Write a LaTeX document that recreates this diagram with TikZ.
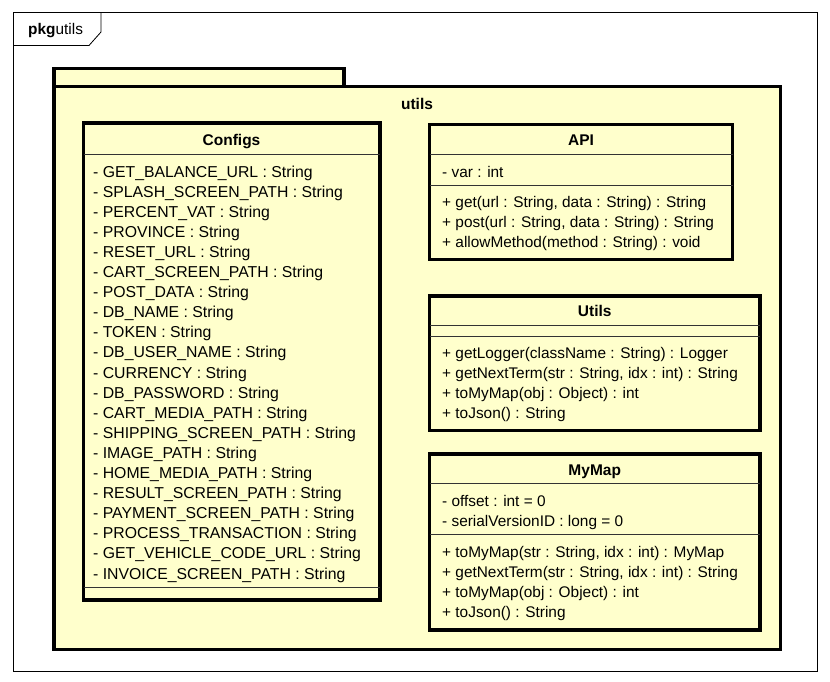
\documentclass[tikz,border=0pt]{standalone}
\usepackage{fontspec}
\setmainfont{Liberation Sans}
\definecolor{notefill}{HTML}{FFFFCC}
\tikzset{
  member/.style={anchor=base west, inner sep=0pt, font=\fontsize{15.4}{15.4}\selectfont},
  cfgmember/.style={member, font=\fontsize{15.8}{15.8}\selectfont},
  classname/.style={anchor=base, inner sep=0pt, font=\fontsize{15.5}{15.5}\selectfont\bfseries},
  classbox/.style={draw, line width=3.2pt, fill=notefill},
  sepline/.style={line width=1pt, black!80},
}
\begin{document}
\begin{tikzpicture}[x=1pt,y=-1pt]
\useasboundingbox (0,0) rectangle (830,682);
\fill[white] (0,0) rectangle (830,682);
% frame
\draw[line width=1pt] (13,13) rectangle (817,671);
\draw[line width=0.8pt] (13,45.5) -- (89,45.5) -- (101,32) -- (101,13);
\node[member] (frametitle) at (28,35) {\textbf{pkg}utils};
% package utils
\draw[line width=3.2pt, fill=notefill] (54,68.5) rectangle (344,86.5);
\draw[line width=3.2pt, fill=notefill] (54,86.5) rectangle (780.5,649.5);
\node[classname] (pkgname) at (417,110) {utils};
% Configs
\draw[classbox] (83.5,123) rectangle (380,600);
\node[classname] (cfgname) at (231.5,145.5) {Configs};
\draw[sepline] (83.5,154.3) -- (380,154.3);
\node[cfgmember] (c1) at (93,177) {- GET\_BALANCE\_URL : String};
\node[cfgmember] (c2) at (93,197.1) {- SPLASH\_SCREEN\_PATH : String};
\node[cfgmember] (c3) at (93,217.2) {- PERCENT\_VAT : String};
\node[cfgmember] (c4) at (93,237.3) {- PROVINCE : String};
\node[cfgmember] (c5) at (93,257.4) {- RESET\_URL : String};
\node[cfgmember] (c6) at (93,277.5) {- CART\_SCREEN\_PATH : String};
\node[cfgmember] (c7) at (93,297.6) {- POST\_DATA : String};
\node[cfgmember] (c8) at (93,317.7) {- DB\_NAME : String};
\node[cfgmember] (c9) at (93,337.8) {- TOKEN : String};
\node[cfgmember] (c10) at (93,357.9) {- DB\_USER\_NAME : String};
\node[cfgmember] (c11) at (93,378) {- CURRENCY : String};
\node[cfgmember] (c12) at (93,398.1) {- DB\_PASSWORD : String};
\node[cfgmember] (c13) at (93,418.2) {- CART\_MEDIA\_PATH : String};
\node[cfgmember] (c14) at (93,438.3) {- SHIPPING\_SCREEN\_PATH : String};
\node[cfgmember] (c15) at (93,458.4) {- IMAGE\_PATH : String};
\node[cfgmember] (c16) at (93,478.5) {- HOME\_MEDIA\_PATH : String};
\node[cfgmember] (c17) at (93,498.6) {- RESULT\_SCREEN\_PATH : String};
\node[cfgmember] (c18) at (93,518.7) {- PAYMENT\_SCREEN\_PATH : String};
\node[cfgmember] (c19) at (93,538.8) {- PROCESS\_TRANSACTION : String};
\node[cfgmember] (c20) at (93,558.9) {- GET\_VEHICLE\_CODE\_URL : String};
\node[cfgmember] (c21) at (93,579) {- INVOICE\_SCREEN\_PATH : String};
\draw[sepline] (83.5,587.7) -- (380,587.7);
% API
\draw[classbox] (429.5,124.5) rectangle (732.5,259.5);
\node[classname] (apiname) at (581,145.5) {API};
\draw[sepline] (429.5,154.3) -- (732.5,154.3);
\node[member] (apivar) at (442,177) {- var : int};
\draw[sepline] (429.5,185) -- (732.5,185);
\node[member] (apiget) at (442,207) {+ get(url : String, data : String) : String};
\node[member] (apipost) at (442,227) {+ post(url : String, data : String) : String};
\node[member] (apiallow) at (442,247) {+ allowMethod(method : String) : void};
% Utils
\draw[classbox] (429.5,296) rectangle (760,430.5);
\node[classname] (utilsname) at (594.75,316.5) {Utils};
\draw[sepline] (429.5,325.7) -- (760,325.7);
\draw[sepline] (429.5,336) -- (760,336);
\node[member] (ulogger) at (442,358.5) {+ getLogger(className : String) : Logger};
\node[member] (unext) at (442,378.5) {+ getNextTerm(str : String, idx : int) : String};
\node[member] (umap) at (442,398.5) {+ toMyMap(obj : Object) : int};
\node[member] (ujson) at (442,418.5) {+ toJson() : String};
% MyMap
\draw[classbox] (429.5,454) rectangle (760,630);
\node[classname] (mapname) at (594.75,475) {MyMap};
\draw[sepline] (429.5,483.3) -- (760,483.3);
\node[member] (moffset) at (442,506) {- offset : int = 0};
\node[member] (mserial) at (442,526) {- serialVersionID : long = 0};
\draw[sepline] (429.5,534.3) -- (760,534.3);
\node[member] (mtomap) at (442,557) {+ toMyMap(str : String, idx : int) : MyMap};
\node[member] (mnext) at (442,577) {+ getNextTerm(str : String, idx : int) : String};
\node[member] (mobj) at (442,597) {+ toMyMap(obj : Object) : int};
\node[member] (mjson) at (442,617) {+ toJson() : String};
\end{tikzpicture}
\end{document}
